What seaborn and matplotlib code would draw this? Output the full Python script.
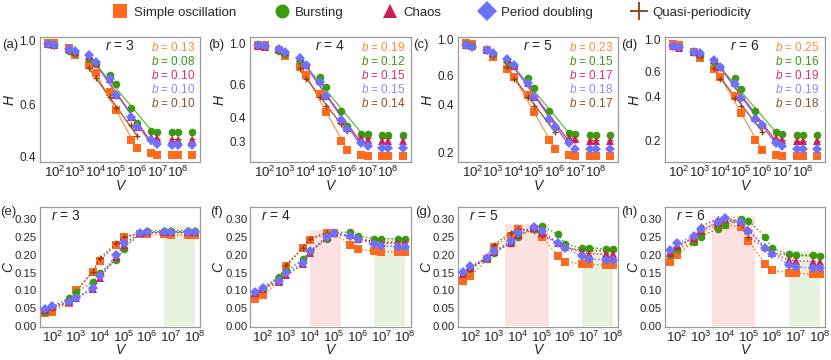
import numpy as np
import pandas as pd
import seaborn as sns
import matplotlib.pyplot as plt
from matplotlib.lines import Line2D
from matplotlib.ticker import FixedLocator, NullLocator, FixedFormatter

# system sizes
V_top = [5e1, 1e2, 5e2, 1e3, 5e3, 1e4, 5e4, 1e5, 5e5, 1e6, 5e6, 1e7, 5e7, 1e8, 5e8]
V_bot = [5e1, 1e2, 5e2, 1e3, 5e3, 1e4, 5e4, 1e5, 5e5, 1e6, 5e6, 1e7, 5e7, 1e8]

kinds = ["Simple oscillation", "Bursting", "Chaos", "Period doubling", "Quasi-periodicity"]
r_values = [3, 4, 5, 6]

# H (entropy) vs V, one list per dynamics type and r
H3_so = [0.98, 0.975, 0.94, 0.89, 0.82, 0.77, 0.665, 0.575, 0.456, 0.425, 0.409, 0.405, 0.403, 0.403, 0.403]
H3_bu = [0.97, 0.965, 0.915, 0.90, 0.858, 0.827, 0.762, 0.705, 0.586, 0.518, 0.489, 0.485, 0.485, 0.485, 0.485]
H3_ch = [0.968, 0.962, 0.93, 0.91, 0.885, 0.835, 0.735, 0.65, 0.545, 0.505, 0.466, 0.46, 0.456, 0.456, 0.456]
H3_pd = [0.97, 0.962, 0.935, 0.915, 0.888, 0.838, 0.733, 0.647, 0.543, 0.504, 0.454, 0.442, 0.436, 0.436, 0.436]
H3_qp = [0.975, 0.97, 0.93, 0.895, 0.80, 0.74, 0.64, 0.585, 0.51, 0.47, 0.46, 0.458, 0.458, 0.458, 0.458]

H4_so = [0.98, 0.975, 0.92, 0.855, 0.742, 0.674, 0.537, 0.427, 0.30, 0.27, 0.254, 0.251, 0.249, 0.249, 0.249]
H4_bu = [0.97, 0.96, 0.913, 0.876, 0.806, 0.764, 0.66, 0.583, 0.433, 0.362, 0.329, 0.326, 0.324, 0.324, 0.324]
H4_ch = [0.97, 0.958, 0.925, 0.90, 0.83, 0.765, 0.625, 0.52, 0.39, 0.352, 0.313, 0.303, 0.30, 0.30, 0.30]
H4_pd = [0.975, 0.96, 0.928, 0.902, 0.83, 0.764, 0.62, 0.519, 0.388, 0.35, 0.294, 0.282, 0.274, 0.274, 0.274]
H4_qp = [0.975, 0.97, 0.92, 0.86, 0.735, 0.647, 0.515, 0.46, 0.37, 0.34, 0.32, 0.312, 0.31, 0.31, 0.31]

H5_so = [0.962, 0.944, 0.87, 0.785, 0.662, 0.592, 0.456, 0.356, 0.239, 0.21, 0.194, 0.19, 0.19, 0.19, 0.19]
H5_bu = [0.94, 0.915, 0.865, 0.816, 0.74, 0.685, 0.581, 0.502, 0.361, 0.29, 0.264, 0.261, 0.258, 0.258, 0.258]
H5_ch = [0.935, 0.91, 0.865, 0.83, 0.765, 0.69, 0.54, 0.445, 0.33, 0.295, 0.248, 0.243, 0.236, 0.236, 0.236]
H5_pd = [0.93, 0.908, 0.865, 0.832, 0.766, 0.695, 0.538, 0.443, 0.325, 0.29, 0.228, 0.212, 0.21, 0.21, 0.21]
H5_qp = [0.95, 0.93, 0.86, 0.79, 0.68, 0.573, 0.44, 0.39, 0.312, 0.27, 0.245, 0.24, 0.238, 0.238, 0.238]

H6_so = [0.927, 0.912, 0.82, 0.742, 0.624, 0.545, 0.405, 0.309, 0.20, 0.173, 0.159, 0.157, 0.155, 0.155, 0.155]
H6_bu = [0.90, 0.88, 0.815, 0.775, 0.696, 0.64, 0.536, 0.451, 0.317, 0.255, 0.227, 0.223, 0.217, 0.217, 0.217]
H6_ch = [0.895, 0.875, 0.818, 0.795, 0.715, 0.645, 0.50, 0.40, 0.285, 0.258, 0.208, 0.203, 0.197, 0.197, 0.197]
H6_pd = [0.897, 0.878, 0.818, 0.797, 0.715, 0.641, 0.494, 0.394, 0.281, 0.255, 0.193, 0.182, 0.175, 0.175, 0.175]
H6_qp = [0.91, 0.895, 0.82, 0.75, 0.634, 0.53, 0.394, 0.344, 0.277, 0.229, 0.205, 0.2, 0.198, 0.198, 0.198]

# C (complexity) vs V
C3_so = [0.036, 0.041, 0.066, 0.10, 0.152, 0.184, 0.228, 0.25, 0.257, 0.257, 0.257, 0.255, 0.255, 0.255]
C3_bu = [0.041, 0.054, 0.079, 0.095, 0.123, 0.149, 0.186, 0.216, 0.26, 0.268, 0.268, 0.268, 0.268, 0.268]
C3_ch = [0.045, 0.055, 0.067, 0.078, 0.104, 0.135, 0.193, 0.228, 0.26, 0.264, 0.265, 0.265, 0.265, 0.265]
C3_pd = [0.047, 0.057, 0.068, 0.079, 0.108, 0.14, 0.20, 0.232, 0.26, 0.264, 0.264, 0.264, 0.264, 0.264]
C3_qp = [0.04, 0.05, 0.068, 0.097, 0.152, 0.19, 0.232, 0.25, 0.26, 0.262, 0.262, 0.262, 0.262, 0.262]

C4_so = [0.075, 0.086, 0.127, 0.169, 0.218, 0.242, 0.26, 0.26, 0.228, 0.216, 0.21, 0.209, 0.208, 0.208]
C4_bu = [0.093, 0.108, 0.139, 0.154, 0.187, 0.211, 0.243, 0.262, 0.264, 0.253, 0.245, 0.245, 0.245, 0.245]
C4_ch = [0.093, 0.104, 0.125, 0.143, 0.173, 0.205, 0.25, 0.26, 0.255, 0.245, 0.235, 0.232, 0.232, 0.232]
C4_pd = [0.097, 0.108, 0.127, 0.148, 0.177, 0.211, 0.251, 0.26, 0.253, 0.243, 0.23, 0.225, 0.223, 0.223]
C4_qp = [0.09, 0.105, 0.135, 0.172, 0.22, 0.245, 0.262, 0.26, 0.25, 0.245, 0.238, 0.236, 0.236, 0.236]

C5_so = [0.127, 0.14, 0.187, 0.223, 0.254, 0.271, 0.271, 0.25, 0.198, 0.181, 0.175, 0.173, 0.171, 0.171]
C5_bu = [0.148, 0.161, 0.189, 0.205, 0.234, 0.251, 0.273, 0.282, 0.257, 0.23, 0.218, 0.218, 0.217, 0.217]
C5_ch = [0.145, 0.163, 0.19, 0.207, 0.234, 0.256, 0.275, 0.262, 0.232, 0.222, 0.208, 0.203, 0.202, 0.202]
C5_pd = [0.152, 0.17, 0.19, 0.211, 0.239, 0.262, 0.277, 0.266, 0.234, 0.22, 0.196, 0.189, 0.186, 0.186]
C5_qp = [0.145, 0.16, 0.195, 0.228, 0.262, 0.272, 0.268, 0.255, 0.232, 0.22, 0.213, 0.212, 0.211, 0.211]

C6_so = [0.181, 0.20, 0.236, 0.262, 0.282, 0.284, 0.278, 0.239, 0.175, 0.157, 0.149, 0.148, 0.146, 0.146]
C6_bu = [0.20, 0.216, 0.236, 0.251, 0.273, 0.284, 0.30, 0.296, 0.251, 0.218, 0.202, 0.20, 0.20, 0.198]
C6_ch = [0.205, 0.225, 0.248, 0.268, 0.29, 0.30, 0.292, 0.27, 0.222, 0.205, 0.185, 0.183, 0.181, 0.181]
C6_pd = [0.214, 0.232, 0.254, 0.271, 0.291, 0.304, 0.293, 0.266, 0.22, 0.202, 0.172, 0.166, 0.163, 0.163]
C6_qp = [0.20, 0.22, 0.25, 0.28, 0.30, 0.30, 0.285, 0.25, 0.22, 0.205, 0.20, 0.198, 0.197, 0.197]

# fitted exponents b shown in the top panels
b3 = ["0.13", "0.08", "0.10", "0.10", "0.10"]
b4 = ["0.19", "0.12", "0.15", "0.15", "0.14"]
b5 = ["0.23", "0.15", "0.17", "0.18", "0.17"]
b6 = ["0.25", "0.16", "0.19", "0.19", "0.18"]

# shaded V windows (pink = peak, green = plateau): (V_start, V_end, C_top)
pink_win = [None, (1e4, 2e5, 0.27), (3e3, 2e5, 0.286), (3e3, 1.8e5, 0.31)]
green_win = [(5e6, 1e8, 0.28), (5e6, 1e8, 0.248), (5e6, 1e8, 0.225), (5e6, 1e8, 0.21)]

H_all = [[H3_so, H3_bu, H3_ch, H3_pd, H3_qp], [H4_so, H4_bu, H4_ch, H4_pd, H4_qp],
         [H5_so, H5_bu, H5_ch, H5_pd, H5_qp], [H6_so, H6_bu, H6_ch, H6_pd, H6_qp]]
C_all = [[C3_so, C3_bu, C3_ch, C3_pd, C3_qp], [C4_so, C4_bu, C4_ch, C4_pd, C4_qp],
         [C5_so, C5_bu, C5_ch, C5_pd, C5_qp], [C6_so, C6_bu, C6_ch, C6_pd, C6_qp]]
b_all = [b3, b4, b5, b6]

colors = ["#ff6a1c", "#3c9a10", "#cc1f5a", "#7070ff", "#8b3f14"]
line_colors = ["#ff9a5c", "#6fbf4a", "#c0388a", "#8c6cf0", "#a0603a"]
text_colors = ["#ff8a3d", "#3c9a10", "#d8306a", "#8888ff", "#9a4a1c"]
markers = ["s", "o", "^", "D", "+"]
msizes = [5.5, 5.5, 5.5, 5.0, 5.0]
fit_range = [(4, 9), (4, 11), (4, 10), (4, 10), (4, 9)]
draw_order = [0, 4, 1, 2, 3]

top_ylim = [(0.382, 1.024), (0.232, 1.077), (0.175, 1.04), (0.142, 1.033)]
top_yticks = [[0.4, 0.6, 1.0], [0.3, 0.4, 0.6, 1.0], [0.2, 0.4, 0.6, 1.0], [0.2, 0.4, 0.6, 1.0]]

sns.set_style("white")
plt.rcParams["font.family"] = ["Liberation Sans", "DejaVu Sans"]
plt.rcParams["mathtext.fontset"] = "custom"
plt.rcParams["mathtext.rm"] = "Liberation Sans"
plt.rcParams["mathtext.it"] = "Liberation Sans:italic"

fig = plt.figure(figsize=(8.31, 3.6), dpi=100)
lefts = [0.048, 0.301, 0.551, 0.800]
width = 0.193

xt = [1e2, 1e3, 1e4, 1e5, 1e6, 1e7, 1e8]
xtl = [r"$10^{%d}$" % k for k in range(2, 9)]


def style_axis(ax):
    for sp in ax.spines.values():
        sp.set_color("#9a9a9a")
        sp.set_linewidth(0.9)
    ax.tick_params(length=0, pad=3, labelsize=8.5)
    ax.tick_params(axis="x", labelsize=9.5, pad=2)
    ax.xaxis.set_major_locator(FixedLocator(xt))
    ax.xaxis.set_major_formatter(FixedFormatter(xtl))
    ax.xaxis.set_minor_locator(NullLocator())


top_labels = ["(a)", "(b)", "(c)", "(d)"]
bot_labels = ["(e)", "(f)", "(g)", "(h)"]
lab_x_top = [0.002, 0.250, 0.497, 0.748]
lab_x_bot = [0.0, 0.253, 0.500, 0.748]

for p in range(4):
    # ---- top row: H vs V on log-log
    ax = fig.add_axes([lefts[p], 0.55, width, 0.347])
    ax.set_xscale("log")
    ax.set_yscale("log")
    for i in draw_order:
        hv = H_all[p][i]
        i0, i1 = fit_range[i]
        lx = np.log10(V_top[i0:i1 + 1])
        ly = np.log10(hv[i0:i1 + 1])
        slope, icpt = np.polyfit(lx, ly, 1)
        fx = [V_top[i0], V_top[i1]]
        fy = [10 ** (icpt + slope * np.log10(v)) for v in fx]
        sns.lineplot(x=fx, y=fy, ax=ax, color=line_colors[i], lw=1.0, zorder=2)
    for i in draw_order:
        mk = markers[i]
        kw = dict(markeredgewidth=1.0, markeredgecolor=colors[i]) if mk == "+" else dict(markeredgewidth=0)
        sns.lineplot(x=V_top, y=H_all[p][i], ax=ax, color=colors[i], linestyle="",
                     marker=mk, markersize=msizes[i], zorder=3, **kw)
    ax.set_xlim(20, 1.2e9)
    ax.set_ylim(*top_ylim[p])
    style_axis(ax)
    ax.yaxis.set_major_locator(FixedLocator(top_yticks[p]))
    ax.yaxis.set_major_formatter(FixedFormatter(["%.1f" % t for t in top_yticks[p]]))
    ax.yaxis.set_minor_locator(NullLocator())
    ax.set_xlabel("V", style="italic", fontsize=10, labelpad=-1)
    ax.set_ylabel("H", style="italic", fontsize=10, labelpad=2)
    ax.text(0.5, 0.93, r"$r$ = %d" % r_values[p], transform=ax.transAxes,
            ha="center", va="center", fontsize=10)
    for i in range(5):
        ax.text(0.69, 0.92 - 0.113 * i, r"$b$ = " + b_all[p][i], transform=ax.transAxes,
                ha="left", va="center", fontsize=8.5, color=text_colors[i])
    fig.text(lab_x_top[p], 0.875, top_labels[p], fontsize=9.5, ha="left", va="center")

    # ---- bottom row: C vs V
    ax2 = fig.add_axes([lefts[p], 0.092, width, 0.334])
    ax2.set_xscale("log")
    if pink_win[p] is not None:
        x0, x1, top = pink_win[p]
        ax2.fill_between([x0, x1], 0, top, color="#fde0e0", lw=0, zorder=0)
    x0, x1, top = green_win[p]
    ax2.fill_between([x0, x1], 0, top, color="#e6f2dd", lw=0, zorder=0)
    for i in draw_order:
        mk = markers[i]
        kw = dict(markeredgewidth=1.0, markeredgecolor=colors[i]) if mk == "+" else dict(markeredgewidth=0)
        sns.lineplot(x=V_bot, y=C_all[p][i], ax=ax2, color=colors[i], linestyle=":",
                     lw=1.0, marker=mk, markersize=msizes[i], zorder=3, **kw)
    ax2.set_xlim(30, 1.7e8)
    ax2.set_ylim(-0.002, 0.335)
    style_axis(ax2)
    ax2.tick_params(axis="y", labelsize=8.2, pad=2)
    cyt = [0.0, 0.05, 0.10, 0.15, 0.20, 0.25, 0.30]
    ax2.yaxis.set_major_locator(FixedLocator(cyt))
    ax2.yaxis.set_major_formatter(FixedFormatter(["%.2f" % t for t in cyt]))
    ax2.set_xlabel("V", style="italic", fontsize=10, labelpad=-1)
    ax2.set_ylabel("C", style="italic", fontsize=10, labelpad=0)
    ax2.text(0.16, 0.92, r"$r$ = %d" % r_values[p], transform=ax2.transAxes,
             ha="center", va="center", fontsize=10)
    fig.text(lab_x_bot[p], 0.41, bot_labels[p], fontsize=9.5, ha="left", va="center")

handles = [Line2D([], [], linestyle="", marker=markers[i], color=colors[i],
                  markersize=10 if markers[i] != "+" else 13,
                  markeredgewidth=0 if markers[i] != "+" else 1.3)
           for i in range(5)]
fig.legend(handles, kinds, loc="center", bbox_to_anchor=(0.52, 0.965), ncol=5,
           frameon=False, fontsize=9.5, handlelength=1.0, handletextpad=0.5,
           columnspacing=3.0)

fig.savefig("out.png", dpi=100)
